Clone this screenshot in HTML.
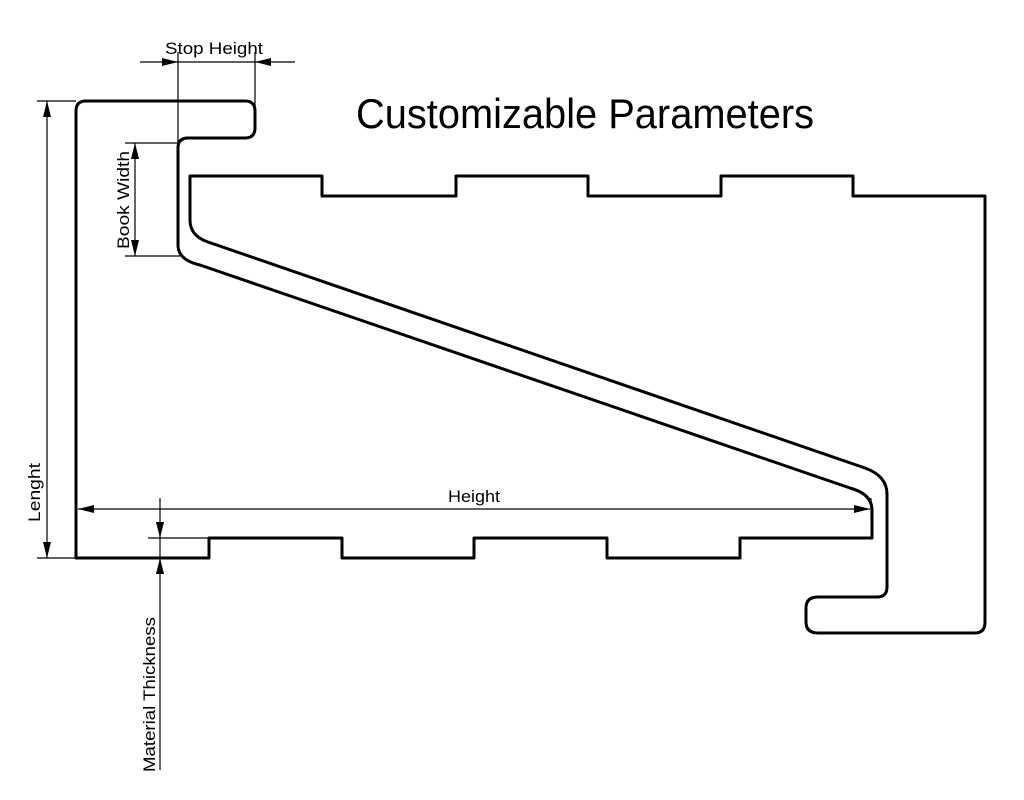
<!DOCTYPE html>
<html><head><meta charset="utf-8"><style>
html,body{margin:0;padding:0;background:#fff;}
svg{display:block;}
text{font-family:"Liberation Sans",sans-serif;fill:#000;}
</style></head><body>
<svg width="1024" height="800" viewBox="0 0 1024 800" xmlns="http://www.w3.org/2000/svg">
<defs>
<marker id="a" viewBox="0 0 16 8" refX="16" refY="4" markerWidth="16" markerHeight="8" markerUnits="userSpaceOnUse" orient="auto-start-reverse">
<path d="M0,0 L16,4 L0,8 Z" fill="#000"/></marker>
</defs>
<!-- main outline -->
<path fill="none" stroke="#000" stroke-width="3" stroke-linejoin="round" d="
M76,558 L76,111 Q76,101 86,101 L245,101 Q255,101 255,111 L255,128 Q255,138 245,138 L188,138 Q178,138 178,148 L178,245
Q178,260 200,265 L850,488 Q872,494 872,510 L872,538 L740,538 L740,558 L607,558 L607,538 L474,538 L474,558 L342,558 L342,538 L209,538 L209,558 Z" />
<path fill="none" stroke="#000" stroke-width="3" stroke-linejoin="round" d="
M190,176 L322,176 L322,196 L456,196 L456,176 L588,176 L588,196 L721,196 L721,176 L853,176 L853,196 L985,196 L985,622 Q985,633 975,633 L818,633 Q806,633 806,622 L806,608 Q806,597 818,597 L877,597 Q887,597 887,587 L887,494 Q887,476 865,468 L208,242 Q190,236 190,220 Z" />
<!-- Stop Height -->
<g stroke="#000" stroke-width="1.2" fill="none">
<line x1="178" y1="52" x2="178" y2="143"/>
<line x1="255" y1="52" x2="255" y2="108"/>
<line x1="140" y1="62" x2="178" y2="62" marker-end="url(#a)"/>
<line x1="295" y1="62" x2="255" y2="62" marker-end="url(#a)"/>
<line x1="178" y1="62" x2="255" y2="62"/>
<!-- Book width -->
<line x1="125" y1="143" x2="178" y2="143"/>
<line x1="125" y1="256" x2="180" y2="256"/>
<line x1="135" y1="143" x2="135" y2="256" marker-start="url(#a)" marker-end="url(#a)"/>
<!-- Lenght -->
<line x1="37" y1="101" x2="76" y2="101"/>
<line x1="37" y1="558" x2="76" y2="558"/>
<line x1="47" y1="101" x2="47" y2="558" marker-start="url(#a)" marker-end="url(#a)"/>
<!-- Height -->
<line x1="78" y1="509" x2="870" y2="509" marker-start="url(#a)" marker-end="url(#a)"/>
<line x1="871" y1="498" x2="871" y2="520"/>
<!-- Material thickness -->
<line x1="148" y1="538" x2="209" y2="538"/>
<line x1="160" y1="498" x2="160" y2="538" marker-end="url(#a)"/>
<line x1="160" y1="770" x2="160" y2="558" marker-end="url(#a)"/>
<line x1="160" y1="538" x2="160" y2="558"/>
</g>
<text x="356" y="128" font-size="42" textLength="458" lengthAdjust="spacingAndGlyphs">Customizable Parameters</text>
<text x="165" y="54" font-size="17" textLength="98" lengthAdjust="spacingAndGlyphs">Stop Height</text>
<text x="448" y="502" font-size="17" textLength="52" lengthAdjust="spacingAndGlyphs">Height</text>
<text transform="translate(129,249) rotate(-90)" font-size="17" textLength="98" lengthAdjust="spacingAndGlyphs">Book Width</text>
<text transform="translate(40,522) rotate(-90)" font-size="17" textLength="59" lengthAdjust="spacingAndGlyphs">Lenght</text>
<text transform="translate(155,772) rotate(-90)" font-size="17" textLength="155" lengthAdjust="spacingAndGlyphs">Material Thickness</text>
</svg>
</body></html>
